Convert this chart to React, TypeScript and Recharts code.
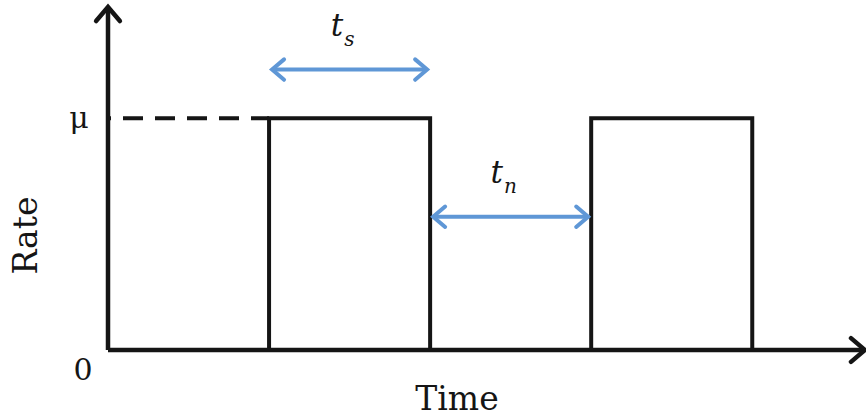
import React from "react";
import { LineChart, Line, XAxis, YAxis, ReferenceLine } from "recharts";

// square-wave rate profile: on for t_s, off for t_n
const times = [0, 10, 20, 30, 40];
const rates = [0, 1, 0, 1, 0];

const MU = 1;
const X_MAX = 47;
const Y_MAX = 1.48;

// double-headed span markers
const tsSpan = [10, 20];
const tsLevel = 1.21;
const tnSpan = [20, 30];
const tnLevel = 0.575;

const data = times.map((t, i) => ({ t, rate: rates[i] }));

const INK = "#151515";
const BLUE = "#5f97d6";
const SERIF = "'DejaVu Serif', 'Liberation Serif', serif";

type Seg = { x1?: number; y1?: number; x2?: number; y2?: number };

// open chevron head pointing along (dx, dy)
function head(x: number, y: number, dx: number, dy: number, size: number) {
  const len = Math.hypot(dx, dy) || 1;
  const ux = dx / len;
  const uy = dy / len;
  const bx = x - ux * size;
  const by = y - uy * size;
  const px = -uy * size * 0.85;
  const py = ux * size * 0.85;
  return `M${bx + px},${by + py} L${x},${y} L${bx - px},${by - py}`;
}

function arrowShape(color: string, both: boolean, width: number, size: number, inset: number) {
  return (p: Seg) => {
    let x1 = p.x1 ?? 0;
    let y1 = p.y1 ?? 0;
    let x2 = p.x2 ?? 0;
    let y2 = p.y2 ?? 0;
    const dx = x2 - x1;
    const dy = y2 - y1;
    const len = Math.hypot(dx, dy) || 1;
    if (inset) {
      x1 += (dx / len) * inset;
      y1 += (dy / len) * inset;
      x2 -= (dx / len) * inset;
      y2 -= (dy / len) * inset;
    }
    return (
      <g>
        <line x1={x1} y1={y1} x2={x2} y2={y2} stroke={color} strokeWidth={width} />
        <path d={head(x2, y2, dx, dy, size)} fill="none" stroke={color} strokeWidth={width} strokeLinecap="round" strokeLinejoin="miter" />
        {both && (
          <path d={head(x1, y1, -dx, -dy, size)} fill="none" stroke={color} strokeWidth={width} strokeLinecap="round" strokeLinejoin="miter" />
        )}
      </g>
    );
  };
}

function spanLabel(sub: string) {
  return ({ viewBox }: any) => {
    const cx = viewBox.x + viewBox.width / 2;
    const y = viewBox.y - 34;
    return (
      <text x={cx - 7} y={y} fontFamily={SERIF} fontStyle="italic" fontSize={31} fill={INK} textAnchor="middle">
        t
        <tspan fontSize={20} dx={1} dy={10}>
          {sub}
        </tspan>
      </text>
    );
  };
}

function RateTick(props: any) {
  const { y, payload } = props;
  if (payload.value === 0) {
    return (
      <text x={83} y={y + 30} fontFamily={SERIF} fontSize={30} fill={INK} textAnchor="middle">
        0
      </text>
    );
  }
  return (
    <text x={79} y={y + 10} fontFamily={SERIF} fontSize={30} fill={INK} textAnchor="middle">
      μ
    </text>
  );
}

export default function App() {
  return (
    <div style={{ position: "absolute", left: 0, top: 0, background: "#fff" }}>
      <LineChart width={866} height={418} data={data} margin={{ top: 7, right: 1, bottom: 0, left: 0 }}>
        <XAxis
          dataKey="t"
          type="number"
          domain={[0, X_MAX]}
          height={68}
          axisLine={false}
          tickLine={false}
          tick={false}
          label={{
            content: ({ viewBox }: any) => (
              <text x={viewBox.x + 349} y={viewBox.y + 60} fontFamily={SERIF} fontSize={33} fill={INK} textAnchor="middle">
                Time
              </text>
            ),
          }}
        />
        <YAxis
          type="number"
          domain={[0, Y_MAX]}
          ticks={[0, MU]}
          width={108}
          axisLine={false}
          tickLine={false}
          tick={<RateTick />}
          label={{
            content: ({ viewBox }: any) => {
              const cy = viewBox.y + viewBox.height / 2 + 57;
              return (
                <text x={37} y={cy} transform={`rotate(-90, 37, ${cy})`} fontFamily={SERIF} fontSize={33} fill={INK} textAnchor="middle">
                  Rate
                </text>
              );
            },
          }}
        />
        {/* dashed guide from the axis to the first pulse */}
        <ReferenceLine
          segment={[
            { x: 0, y: MU },
            { x: times[1], y: MU },
          ]}
          stroke={INK}
          strokeWidth={4}
          strokeDasharray="20 12"
          strokeDashoffset={17}
          ifOverflow="visible"
        />
        <Line
          dataKey="rate"
          type="stepAfter"
          stroke={INK}
          strokeWidth={4}
          dot={false}
          isAnimationActive={false}
        />
        {/* axes with arrow heads */}
        <ReferenceLine
          segment={[
            { x: 0, y: 0 },
            { x: X_MAX, y: 0 },
          ]}
          ifOverflow="visible"
          shape={arrowShape(INK, false, 4.5, 14, 0)}
        />
        <ReferenceLine
          segment={[
            { x: 0, y: 0 },
            { x: 0, y: Y_MAX },
          ]}
          ifOverflow="visible"
          shape={arrowShape(INK, false, 4.5, 14, 0)}
        />
        <ReferenceLine
          segment={[
            { x: tsSpan[0], y: tsLevel },
            { x: tsSpan[1], y: tsLevel },
          ]}
          ifOverflow="visible"
          shape={arrowShape(BLUE, true, 4, 12, 3)}
          label={{ content: spanLabel("s") }}
        />
        <ReferenceLine
          segment={[
            { x: tnSpan[0], y: tnLevel },
            { x: tnSpan[1], y: tnLevel },
          ]}
          ifOverflow="visible"
          shape={arrowShape(BLUE, true, 4, 12, 3)}
          label={{ content: spanLabel("n") }}
        />
      </LineChart>
    </div>
  );
}
